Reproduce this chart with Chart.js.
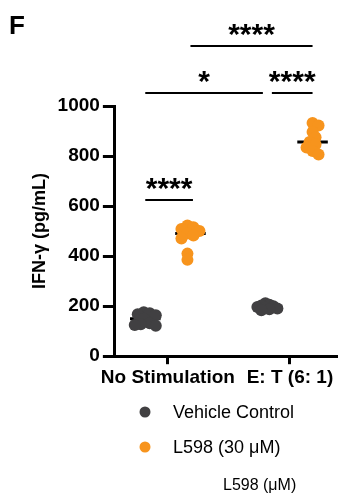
<!DOCTYPE html>
<html><head><meta charset="utf-8">
<script src="https://cdn.jsdelivr.net/npm/chart.js@4.4.1/dist/chart.umd.min.js"></script>
<style>html,body{margin:0;padding:0;background:#fff;}canvas{display:block;}</style>
</head><body>
<canvas id="c" width="342" height="496"></canvas>
<script>
// ---- data ----
const categories = ['No Stimulation', 'E: T (6: 1)'];
const seriesNames = ['Vehicle Control', 'L598 (30 μM)'];
const vehicleNoStim = [176, 172, 168, 164, 150, 132, 128, 125, 122];
const l598NoStim   = [522, 515, 508, 500, 490, 482, 470, 410, 385];
const vehicleET    = [212, 206, 203, 200, 197, 194, 191, 188, 184];
const l598ET       = [932, 922, 896, 875, 856, 846, 834, 820, 806];
const yTicks = [0, 200, 400, 600, 800, 1000];
const sigPairs  = [[0, 1], [0, 2], [2, 3], [1, 3]];
const sigLabels = ['****', '*', '****', '****'];
const sigLevels = [624, 1052, 1052, 1240];
const legendNote = 'L598 (μM)';
const panelLetter = 'F';

// ---- styling ----
const GRAY = '#414042', ORANGE = '#f7941d';
const FONT = '"Liberation Sans", Arial, Helvetica, sans-serif';
const groupShift = 0.185;
const groupX = [0 - groupShift, 0 + groupShift, 1 - groupShift, 1 + groupShift];
const pxPerX = 122, pxPerY = 0.25;

function median(a) { const s = [...a].sort((p, q) => p - q); const n = s.length; return n % 2 ? s[(n - 1) / 2] : (s[n / 2 - 1] + s[n / 2]) / 2; }
function swarm(values, diam) {
  const placed = [], offs = [];
  const step = diam / 2;
  values.forEach(v => {
    const py = v * pxPerY;
    let chosen = 0;
    for (let i = 0; i < 60; i++) {
      const k = Math.ceil(i / 2) * (i % 2 ? 1 : -1);
      const cx = k * step;
      if (placed.every(p => Math.hypot(p[0] - cx, p[1] - py) >= diam)) { chosen = cx; break; }
    }
    placed.push([chosen, py]); offs.push(chosen);
  });
  const mid = (Math.min(...offs) + Math.max(...offs)) / 2;
  return offs.map(o => (o - mid) / pxPerX);
}
function pts(values, gi, d) { const o = swarm(values, d); return values.map((v, i) => ({ x: groupX[gi] + o[i], y: v })); }
function medLine(values, gi) { const m = median(values); return [{ x: groupX[gi] - 0.125, y: m }, { x: groupX[gi] + 0.125, y: m }]; }

const groups = [vehicleNoStim, l598NoStim, vehicleET, l598ET];

const overlay = {
  id: 'overlay',
  afterDraw(chart) {
    const ctx = chart.ctx, xs = chart.scales.x, ys = chart.scales.y;
    ctx.save();
    sigPairs.forEach((pr, i) => {
      let x1 = xs.getPixelForValue(groupX[pr[0]]), x2 = xs.getPixelForValue(groupX[pr[1]]);
      sigPairs.forEach((o, j) => {
        if (j === i || sigLevels[j] !== sigLevels[i]) return;
        if (o[0] === pr[1]) x2 -= 4.5;
        if (o[1] === pr[0]) x1 += 4.5;
      });
      if (pr[0] === 0 && pr[1] === 1) x2 += 2.5;
      const y = ys.getPixelForValue(sigLevels[i]);
      ctx.strokeStyle = '#000'; ctx.lineWidth = 2;
      ctx.beginPath(); ctx.moveTo(x1, y); ctx.lineTo(x2, y); ctx.stroke();
      ctx.font = 'bold 30px ' + FONT; ctx.fillStyle = '#000'; ctx.textAlign = 'center'; ctx.textBaseline = 'alphabetic';
      const m = ctx.measureText(sigLabels[i]);
      const cy = y - 16;
      const base = cy + (m.actualBoundingBoxAscent - m.actualBoundingBoxDescent) / 2;
      ctx.fillText(sigLabels[i], (x1 + x2) / 2, base);
    });
    ctx.font = 'bold 26px ' + FONT; ctx.textAlign = 'left'; ctx.textBaseline = 'alphabetic'; ctx.fillStyle = '#000';
    ctx.fillText(panelLetter, 9, 34);
    const legColors = [GRAY, ORANGE], legY = [412, 447];
    seriesNames.forEach((n, i) => {
      ctx.fillStyle = legColors[i];
      ctx.beginPath(); ctx.arc(145, legY[i], 5.5, 0, Math.PI * 2); ctx.fill();
      ctx.fillStyle = '#000'; ctx.font = '18px ' + FONT; ctx.textBaseline = 'middle'; ctx.textAlign = 'left';
      ctx.fillText(n, 173, legY[i] + 1);
    });
    ctx.font = '16px ' + FONT; ctx.textBaseline = 'middle';
    ctx.fillText(legendNote, 223, 486);
    ctx.restore();
  }
};

new Chart(document.getElementById('c'), {
  type: 'scatter',
  data: {
    datasets: [
      { label: seriesNames[0], data: [...pts(vehicleNoStim, 0, 6), ...pts(vehicleET, 2, 4)], backgroundColor: GRAY, borderWidth: 0, pointRadius: 6, order: 1 },
      { label: seriesNames[1], data: [...pts(l598NoStim, 1, 6), ...pts(l598ET, 3, 6)], backgroundColor: ORANGE, borderWidth: 0, pointRadius: 6, order: 1 },
      ...groups.map((g, gi) => ({ type: 'line', data: medLine(g, gi), borderColor: '#000', borderWidth: 3, pointRadius: 0, order: 2, showLine: true }))
    ]
  },
  options: {
    responsive: false, animation: false, devicePixelRatio: 1, events: [],
    layout: { padding: { top: 106, left: 29, right: 0, bottom: 105 } },
    plugins: { legend: { display: false }, tooltip: { enabled: false } },
    scales: {
      x: {
        type: 'linear', min: -0.434, max: 1.377,
        afterBuildTicks(axis) { axis.ticks = categories.map((c, i) => ({ value: i })); },
        afterFit(axis) { axis.paddingRight = 0; axis.paddingLeft = 0; },
        ticks: { callback: v => categories[Math.round(v)], color: '#000', font: { family: FONT, size: 19, weight: 'bold' }, maxRotation: 0, minRotation: 0, autoSkip: false, padding: 2 },
        grid: { drawOnChartArea: false, drawTicks: true, tickLength: 8, tickWidth: 3, tickColor: '#000', color: '#000', lineWidth: 3 },
        border: { display: true, color: '#000', width: 3 }
      },
      y: {
        min: 0, max: 1000,
        afterBuildTicks(axis) { axis.ticks = yTicks.map(v => ({ value: v })); },
        ticks: { callback: v => String(v), color: '#000', font: { family: FONT, size: 19, weight: 'bold' }, padding: 3 },
        grid: { drawOnChartArea: false, drawTicks: true, tickLength: 12, tickWidth: 3, tickColor: '#000', color: '#000', lineWidth: 3 },
        border: { display: true, color: '#000', width: 3 },
        title: { display: true, text: 'IFN-γ (pg/mL)', color: '#000', font: { family: FONT, size: 18, weight: 'bold' }, padding: { top: 0, bottom: 4 } }
      }
    }
  },
  plugins: [overlay]
});
</script>
</body></html>
